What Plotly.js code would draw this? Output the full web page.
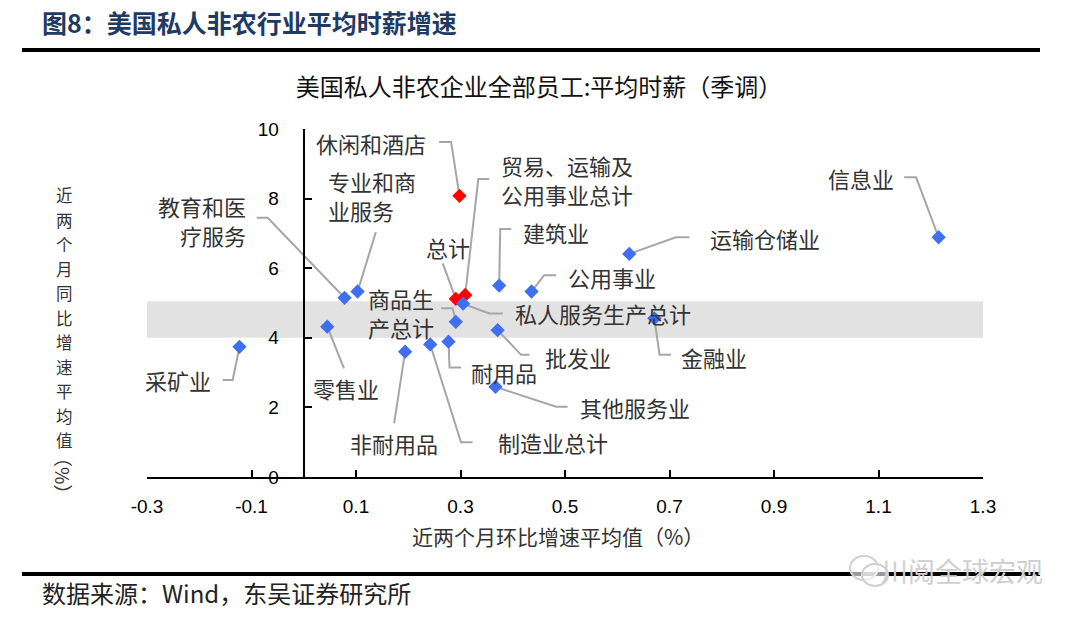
<!DOCTYPE html>
<html>
<head>
<meta charset="utf-8">
<script src="https://cdn.plot.ly/plotly-3.0.1.min.js"></script>
<style>
  html, body { margin: 0; padding: 0; background: #ffffff; }
  #chart { width: 1080px; height: 617px; }
</style>
</head>
<body>
<div id="chart"></div>
<script>
// ---------------- DATA ----------------
const categories = [
  '休闲和酒店', '教育和医疗服务', '专业和商业服务', '建筑业', '总计',
  '贸易、运输及公用事业总计', '私人服务生产总计', '运输仓储业', '公用事业', '信息业',
  '采矿业', '零售业', '非耐用品', '制造业总计', '耐用品',
  '商品生产总计', '批发业', '金融业', '其他服务业'
];
// 近两个月环比增速平均值（%）
const momValues = [
  0.298, 0.078, 0.103, 0.374, 0.291,
  0.309, 0.305, 0.623, 0.436, 1.215,
  -0.123, 0.045, 0.194, 0.242, 0.277,
  0.291, 0.371, 0.671, 0.367
];
// 近两个月同比增速平均值（%）
const yoyValues = [
  8.08, 5.15, 5.33, 5.50, 5.12,
  5.23, 4.98, 6.41, 5.33, 6.89,
  3.74, 4.32, 3.60, 3.81, 3.89,
  4.46, 4.22, 4.56, 2.59
];
const highlighted = ['休闲和酒店', '总计', '贸易、运输及公用事业总计'];
const xTickVals = [-0.3, -0.1, 0.1, 0.3, 0.5, 0.7, 0.9, 1.1, 1.3];
const xTickText = ['-0.3', '-0.1', '0.1', '0.3', '0.5', '0.7', '0.9', '1.1', '1.3'];
const yTickVals = [0, 2, 4, 6, 8, 10];
const bandRange = [4.0, 5.05];

// ---------------- LABEL PLACEMENT (layout only) ----------------
// lines: label text lines; lx,ly: label anchor (data coords); xa: x anchor
// sx,sy: start of leader line near label; ex: elbow x (at height sy)
const labelPlacement = {
  '休闲和酒店':           {lines: ['休闲和酒店'], lx: 0.238, ly: 9.60, xa: 'right', sx: 0.259, sy: 9.63, ex: 0.282},
  '贸易、运输及公用事业总计': {lines: ['贸易、运输及', '公用事业总计'], lx: 0.374, ly: 8.56, xa: 'left', sx: 0.355, sy: 8.56, ex: 0.334},
  '专业和商业服务':       {lines: ['专业和商', '业服务'], lx: 0.043, ly: 8.08, xa: 'left', sx: 0.138, sy: 7.04, ex: 0.138},
  '教育和医疗服务':       {lines: ['教育和医', '疗服务'], lx: -0.107, ly: 7.36, xa: 'right', sx: -0.090, sy: 7.45, ex: -0.069},
  '总计':                 {lines: ['总计'], lx: 0.277, ly: 6.62, xa: 'center', sx: 0.266, sy: 6.14, ex: 0.266},
  '建筑业':               {lines: ['建筑业'], lx: 0.416, ly: 7.05, xa: 'left', sx: 0.397, sy: 7.13, ex: 0.376},
  '运输仓储业':           {lines: ['运输仓储业'], lx: 0.774, ly: 6.86, xa: 'left', sx: 0.738, sy: 6.89, ex: 0.712},
  '公用事业':             {lines: ['公用事业'], lx: 0.502, ly: 5.76, xa: 'left', sx: 0.483, sy: 5.80, ex: 0.460},
  '信息业':               {lines: ['信息业'], lx: 1.134, ly: 8.58, xa: 'right', sx: 1.149, sy: 8.61, ex: 1.172},
  '商品生产总计':         {lines: ['商品生', '产总计'], lx: 0.119, ly: 4.73, xa: 'left', sx: 0.263, sy: 4.85, ex: 0.285},
  '私人服务生产总计':     {lines: ['私人服务生产总计'], lx: 0.400, ly: 4.70, xa: 'left', sx: 0.381, sy: 4.70, ex: 0.355},
  '采矿业':               {lines: ['采矿业'], lx: -0.174, ly: 2.79, xa: 'right', sx: -0.155, sy: 2.79, ex: -0.136},
  '零售业':               {lines: ['零售业'], lx: 0.014, ly: 2.55, xa: 'left', sx: 0.077, sy: 3.12, ex: 0.077},
  '非耐用品':             {lines: ['非耐用品'], lx: 0.172, ly: 0.97, xa: 'center', sx: 0.173, sy: 1.54, ex: 0.173},
  '制造业总计':           {lines: ['制造业总计'], lx: 0.368, ly: 1.01, xa: 'left', sx: 0.323, sy: 1.00, ex: 0.301},
  '耐用品':               {lines: ['耐用品'], lx: 0.317, ly: 3.03, xa: 'left', sx: 0.301, sy: 3.15, ex: 0.279},
  '批发业':               {lines: ['批发业'], lx: 0.457, ly: 3.46, xa: 'left', sx: 0.432, sy: 3.51, ex: 0.416},
  '金融业':               {lines: ['金融业'], lx: 0.719, ly: 3.46, xa: 'left', sx: 0.703, sy: 3.51, ex: 0.681},
  '其他服务业':           {lines: ['其他服务业'], lx: 0.524, ly: 2.02, xa: 'left', sx: 0.505, sy: 2.02, ex: 0.483}
};
const LABEL_LINE_GAP = 29; // px between lines of a two-line label

// ---------------- GEOMETRY HELPERS ----------------
const W = 1080, H = 617;
const M = {l: 147, r: 97, t: 129, b: 140};
const plotW = W - M.l - M.r, plotH = H - M.t - M.b;
const px2paper = px => (px - M.l) / plotW;
const py2paper = py => (H - M.b - py) / plotH;

const CJK = 'Noto Sans CJK SC, sans-serif';
const TXT = '#333333';

// ---------------- TRACES ----------------
const lineX = [], lineY = [];
categories.forEach((c, i) => {
  const p = labelPlacement[c];
  lineX.push(p.sx, p.ex, momValues[i], null);
  lineY.push(p.sy, p.sy, yoyValues[i], null);
});

const redIdx = categories.map((c, i) => i).filter(i => highlighted.includes(categories[i]));
const blueIdx = categories.map((c, i) => i).filter(i => !highlighted.includes(categories[i]));

const traces = [
  {
    type: 'scatter', mode: 'lines', x: lineX, y: lineY,
    line: {color: '#a6a6a6', width: 2}, hoverinfo: 'skip', showlegend: false, cliponaxis: false
  },
  {
    type: 'scatter', mode: 'markers',
    x: redIdx.map(i => momValues[i]), y: redIdx.map(i => yoyValues[i]),
    text: redIdx.map(i => categories[i]),
    marker: {symbol: 'diamond', size: 11, color: '#ff0000'}, showlegend: false
  },
  {
    type: 'scatter', mode: 'markers',
    x: blueIdx.map(i => momValues[i]), y: blueIdx.map(i => yoyValues[i]),
    text: blueIdx.map(i => categories[i]),
    marker: {symbol: 'diamond', size: 11, color: '#3f6ff0'}, showlegend: false
  }
];

// ---------------- ANNOTATIONS ----------------
const annotations = [];
categories.forEach(c => {
  const p = labelPlacement[c];
  const n = p.lines.length;
  p.lines.forEach((t, k) => {
    annotations.push({
      xref: 'x', yref: 'y', x: p.lx, y: p.ly, text: t, showarrow: false,
      xanchor: p.xa, yanchor: 'middle',
      yshift: ((n - 1) / 2 - k) * LABEL_LINE_GAP,
      font: {family: CJK, size: 22, color: TXT}
    });
  });
});

// stacked y-axis title (one upright character per row)
const yTitleChars = '近两个月同比增速平均值';
for (let k = 0; k < yTitleChars.length; k++) {
  annotations.push({
    xref: 'paper', yref: 'paper', x: px2paper(64), y: py2paper(195 + k * 24.5),
    text: yTitleChars[k], showarrow: false, xanchor: 'center', yanchor: 'middle',
    borderpad: 0, font: {family: CJK, size: 16.5, color: TXT}
  });
}
annotations.push({
  xref: 'paper', yref: 'paper', x: px2paper(64), y: py2paper(476),
  text: '（%）', textangle: 90, showarrow: false, xanchor: 'center', yanchor: 'middle',
  font: {family: CJK, size: 19, color: TXT}
});
// x-axis title
annotations.push({
  xref: 'paper', yref: 'paper', x: px2paper(558), y: py2paper(536),
  text: '近两个月环比增速平均值（%）', showarrow: false, xanchor: 'center', yanchor: 'middle',
  font: {family: CJK, size: 21, color: TXT}
});
// header
annotations.push({
  xref: 'paper', yref: 'paper', x: px2paper(40), y: py2paper(22),
  text: '<b>图8：美国私人非农行业平均时薪增速</b>', showarrow: false, xanchor: 'left', yanchor: 'middle',
  font: {family: CJK, size: 25, color: '#1f3a63'}
});
// source
annotations.push({
  xref: 'paper', yref: 'paper', x: px2paper(40), y: py2paper(592),
  text: '数据来源：Wind，东吴证券研究所', showarrow: false, xanchor: 'left', yanchor: 'middle',
  font: {family: CJK, size: 24, color: '#222222'}
});
// watermark
annotations.push({
  xref: 'paper', yref: 'paper', x: px2paper(1045), y: py2paper(570),
  text: '川阅全球宏观', showarrow: false, xanchor: 'right', yanchor: 'middle',
  font: {family: CJK, size: 27, color: '#cfcfcf'}
});

// ---------------- SHAPES ----------------
const shapes = [
  {type: 'rect', xref: 'x', yref: 'y', x0: xTickVals[0], x1: xTickVals[xTickVals.length - 1],
   y0: bandRange[0], y1: bandRange[1], fillcolor: '#e2e2e2', line: {width: 0}, layer: 'below'},
  {type: 'line', xref: 'paper', yref: 'paper', x0: px2paper(22), x1: px2paper(1040),
   y0: py2paper(50), y1: py2paper(50), line: {color: '#000000', width: 4}},
  {type: 'line', xref: 'paper', yref: 'paper', x0: px2paper(22), x1: px2paper(1040),
   y0: py2paper(574), y1: py2paper(574), line: {color: '#000000', width: 4}},
  {type: 'circle', xref: 'paper', yref: 'paper', x0: px2paper(850), x1: px2paper(878),
   y0: py2paper(580), y1: py2paper(556), line: {color: '#d0d0d0', width: 2}, fillcolor: 'rgba(255,255,255,0.6)'},
  {type: 'circle', xref: 'paper', yref: 'paper', x0: px2paper(862), x1: px2paper(888),
   y0: py2paper(586), y1: py2paper(564), line: {color: '#d0d0d0', width: 2}, fillcolor: 'rgba(255,255,255,0.6)'}
];

// ---------------- LAYOUT ----------------
const layout = {
  width: W, height: H,
  margin: M,
  paper_bgcolor: '#ffffff', plot_bgcolor: '#ffffff',
  showlegend: false,
  title: {
    text: '美国私人非农企业全部员工:平均时薪（季调）',
    xref: 'container', yref: 'container', x: 539 / W, y: 1 - 88 / H,
    xanchor: 'center', yanchor: 'middle',
    font: {family: CJK, size: 24, color: '#111111'}
  },
  xaxis: {
    range: [xTickVals[0], xTickVals[xTickVals.length - 1]],
    tickvals: xTickVals, ticktext: xTickText,
    showgrid: false, zeroline: false,
    showline: true, linecolor: '#000000', linewidth: 2,
    ticks: 'inside', ticklen: 7, tickwidth: 2, tickcolor: '#000000',
    ticklabelstandoff: 11,
    tickfont: {family: 'Liberation Sans, Arial, sans-serif', size: 19, color: '#000000'}
  },
  yaxis: {
    range: [0, 10],
    tickvals: yTickVals,
    anchor: 'free', position: (0 - xTickVals[0]) / (xTickVals[xTickVals.length - 1] - xTickVals[0]),
    showgrid: false, zeroline: false,
    showline: true, linecolor: '#000000', linewidth: 2,
    ticks: 'inside', ticklen: 7, tickwidth: 2, tickcolor: '#000000',
    ticklabelstandoff: 20,
    tickfont: {family: 'Liberation Sans, Arial, sans-serif', size: 19, color: '#000000'}
  },
  annotations: annotations,
  shapes: shapes
};

Plotly.newPlot('chart', traces, layout, {displayModeBar: false, responsive: false});
</script>
</body>
</html>
